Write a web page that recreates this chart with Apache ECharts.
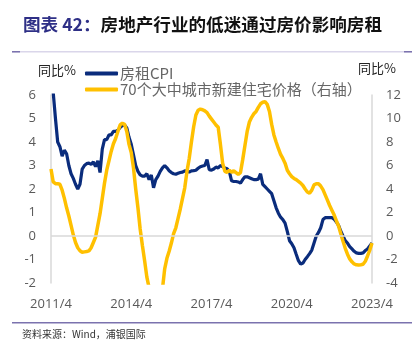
<!DOCTYPE html>
<html><head><meta charset="utf-8">
<script src="https://cdn.jsdelivr.net/npm/echarts@6/dist/echarts.min.js"></script>
<style>html,body{margin:0;padding:0;background:#fff}#c{width:419px;height:342px}</style>
</head><body><div id="c"></div>
<script>
// Monthly, 2011/4 .. 2023/4
const startYear = 2011, startMonth = 4, monthCount = 145;
const xTickLabels = ['2011/4','2014/4','2017/4','2020/4','2023/4'];
const seriesNames = ['房租CPI','70个大中城市新建住宅价格（右轴）'];
const rentCPI = [
 6.6,6.1,5.0,4.0,3.8,3.4,3.65,3.5,3.0,2.65,2.45,2.2,
 2.0,2.2,2.85,3.0,3.08,3.1,3.05,3.15,2.95,3.2,2.7,3.7,
 4.1,4.1,4.3,4.3,4.45,4.45,4.5,4.62,4.7,4.72,4.6,4.2,
 3.9,3.45,3.0,2.75,2.6,2.55,2.55,2.65,2.4,2.6,2.05,2.4,
 2.55,2.75,2.9,3.0,2.9,2.78,2.7,2.65,2.63,2.67,2.7,2.72,
 2.77,2.75,2.72,2.77,2.78,2.8,2.88,2.95,2.98,3.0,3.25,2.82,
 2.8,2.85,2.93,2.9,3.0,2.95,2.9,2.86,2.75,2.35,2.32,2.32,
 2.3,2.25,2.4,2.52,2.52,2.48,2.44,2.4,2.4,2.42,2.65,2.2,
 2.1,2.0,1.9,1.8,1.5,1.2,0.97,0.8,0.7,0.55,0.2,-0.2,
 -0.33,-0.5,-0.78,-1.05,-1.2,-1.15,-1.0,-0.88,-0.75,-0.6,-0.3,0.0,
 0.15,0.35,0.7,0.78,0.78,0.78,0.78,0.72,0.6,0.45,0.2,0.0,
 -0.2,-0.3,-0.45,-0.55,-0.65,-0.72,-0.74,-0.74,-0.72,-0.62,-0.55,-0.42,
 -0.3
];
const newHomePrice = [
 5.7,4.6,4.45,4.45,4.4,3.9,3.2,2.4,1.7,0.9,0.1,-0.55,
 -1.0,-1.25,-1.38,-1.35,-1.32,-1.27,-1.0,-0.55,-0.1,0.9,1.9,3.2,
 4.5,5.6,6.4,7.2,7.85,8.3,8.9,9.45,9.6,9.5,8.9,7.8,
 7.1,5.8,4.0,2.4,0.6,-0.8,-2.1,-3.5,-4.4,-5.1,-5.6,-5.9,
 -6.1,-5.6,-4.5,-2.8,-1.9,-1.3,-0.6,0.2,0.7,1.5,2.3,3.2,
 4.1,5.5,6.6,8.0,9.3,10.3,10.7,10.8,10.75,10.65,10.5,10.2,
 9.95,9.7,9.45,9.25,7.8,6.2,5.5,5.42,5.6,5.42,5.55,5.4,
 5.25,5.4,6.5,7.7,8.9,9.7,10.1,10.4,10.6,10.95,11.25,11.38,
 11.43,11.2,10.6,9.5,8.6,8.0,7.45,6.95,6.6,6.2,5.6,5.3,
 5.05,4.9,4.8,4.65,4.5,4.3,4.0,3.75,3.65,3.9,4.35,4.45,
 4.45,4.25,3.95,3.5,3.05,2.6,2.2,1.8,1.3,0.85,0.2,-0.45,
 -1.05,-1.55,-1.95,-2.2,-2.38,-2.45,-2.47,-2.44,-2.4,-2.15,-1.7,-1.2,
 -0.6
];
const categories = [];
for (let i = 0; i < monthCount; i++) {
  const t = (startMonth - 1) + i;
  categories.push((startYear + Math.floor(t / 12)) + '/' + (t % 12 + 1));
}
const gray = '#595959', axisGray = '#D9D9D9';
const chart = echarts.init(document.getElementById('c'), null, {renderer: 'canvas'});
chart.setOption({
  animation: false,
  backgroundColor: '#fff',
  textStyle: {fontFamily: '"Noto Sans CJK SC", "Noto Sans", sans-serif'},
  grid: {left: 51, right: 47, top: 95, bottom: 59},
  legend: {
    orient: 'vertical', left: 80, top: 61, itemWidth: 33, itemHeight: 4, itemGap: 1,
    icon: 'roundRect',
    textStyle: {color: '#666', fontSize: 15, fontFamily: '"Noto Sans CJK SC", sans-serif', padding: [0, 0, 0, -3]},
    data: seriesNames
  },
  xAxis: {
    type: 'category', data: categories, boundaryGap: false,
    axisLine: {show: false}, axisTick: {show: false},
    axisLabel: {
      color: gray, fontSize: 13, margin: 15, fontFamily: '"Open Sans", sans-serif',
      interval: 0,
      formatter: v => xTickLabels.indexOf(v) >= 0 ? v : ''
    }
  },
  yAxis: [
    {type: 'value', min: -2, max: 6, interval: 1,
     axisLine: {show: true, lineStyle: {color: axisGray, width: 1.5}}, axisTick: {show: false},
     splitLine: {show: false},
     axisLabel: {color: gray, fontSize: 13, margin: 15, fontFamily: '"Open Sans", sans-serif'}},
    {type: 'value', min: -4, max: 12, interval: 2, position: 'right',
     axisLine: {show: true, lineStyle: {color: axisGray, width: 1.5}}, axisTick: {show: false},
     splitLine: {show: false},
     axisLabel: {color: gray, fontSize: 13, margin: 14, fontFamily: '"Open Sans", sans-serif'}}
  ],
  series: [
    {name: seriesNames[0], type: 'line', data: rentCPI, yAxisIndex: 0, symbol: 'none',
     lineStyle: {color: '#0A2C7C', width: 3.2}, itemStyle: {color: '#0A2C7C'}, clip: true,
     markLine: {silent: true, symbol: 'none', label: {show: false},
       lineStyle: {color: axisGray, width: 1.5, type: 'solid'}, data: [{yAxis: 0}]}},
    {name: seriesNames[1], type: 'line', data: newHomePrice, yAxisIndex: 1, symbol: 'none',
     lineStyle: {color: '#FFC000', width: 3.5}, itemStyle: {color: '#FFC000'}, clip: true}
  ],
  graphic: [
    {type: 'text', left: 23, top: 16, style: {
      rich: {
        a: {fontSize: 17.6, fontWeight: 'bold', fill: '#2E2F86', fontFamily: '"Noto Sans CJK SC", sans-serif'},
        b: {fontSize: 17.6, fontWeight: 'bold', fill: '#111', fontFamily: '"Noto Sans CJK SC", sans-serif'}
      },
      text: '{a|图表 42：}{b|房地产行业的低迷通过房价影响房租}'
    }},
    {type: 'rect', shape: {x: 12, y: 51, width: 400, height: 1.5}, style: {fill: '#DAD6EA'}},
    {type: 'rect', shape: {x: 12, y: 51, width: 8, height: 1.5}, style: {fill: '#7B72AE'}},
    {type: 'rect', shape: {x: 404, y: 51, width: 8, height: 1.5}, style: {fill: '#7B72AE'}},
    {type: 'text', left: 38, top: 64, style: {text: '同比%', fontSize: 13, fill: '#222', fontFamily: '"Noto Sans CJK SC", sans-serif'}},
    {type: 'text', left: 358, top: 62, style: {text: '同比%', fontSize: 13, fill: '#222', fontFamily: '"Noto Sans CJK SC", sans-serif'}},
    {type: 'rect', shape: {x: 12, y: 322, width: 400, height: 1.5}, style: {fill: '#7B72AE'}},
    {type: 'text', left: 22, top: 329, style: {text: '资料来源：Wind，浦银国际', fontSize: 10, fill: '#333', fontFamily: '"Noto Sans CJK SC", sans-serif'}}
  ]
});
</script></body></html>
